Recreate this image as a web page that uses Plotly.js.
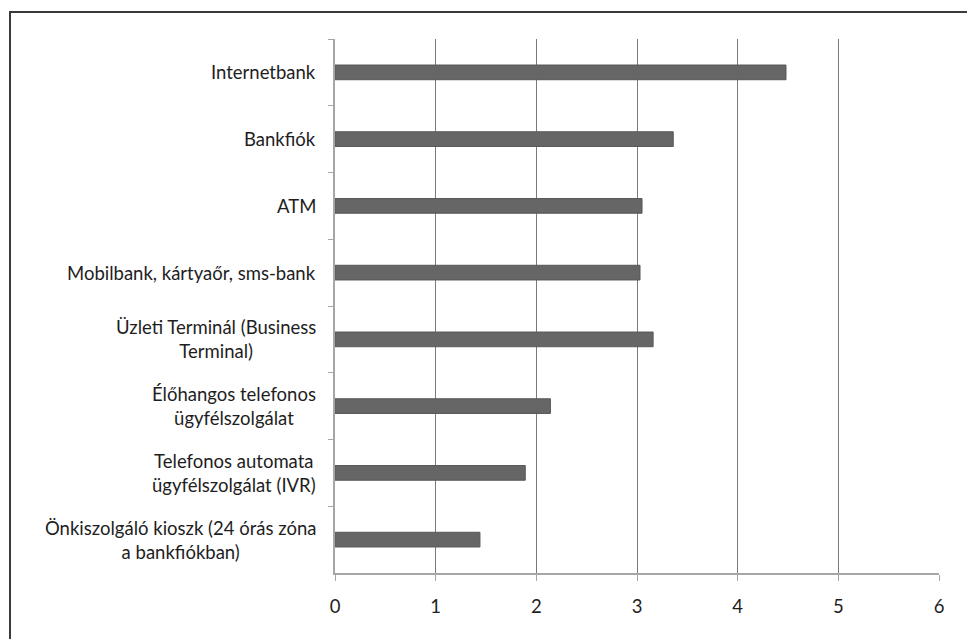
<!DOCTYPE html>
<html>
<head>
<meta charset="utf-8">
<script src="https://cdn.plot.ly/plotly-3.0.1.min.js"></script>
<style>
  html, body { margin: 0; padding: 0; background: #fff; }
  #wrap { position: relative; width: 967px; height: 639px; overflow: hidden; }
  #chart { position: absolute; left: 0; top: 0; width: 967px; height: 639px; }
  /* frame around the chart: only its top and left edges fall inside the page */
  #frame { position: absolute; left: 9px; top: 11px; width: 1000px; height: 700px;
           border: 2px solid #3a3a3a; box-sizing: border-box; pointer-events: none; }
</style>
</head>
<body>
<div id="wrap">
  <div id="chart"></div>
  <div id="frame"></div>
</div>
<script>
// Banking channels, top to bottom
const channels = [
  "Internetbank",
  "Bankfiók",
  "ATM",
  "Mobilbank, kártyaőr, sms-bank",
  "Üzleti Terminál (Business Terminal)",
  "Élőhangos telefonos ügyfélszolgálat",
  "Telefonos automata ügyfélszolgálat (IVR)",
  "Önkiszolgáló kioszk (24 órás zóna a bankfiókban)"
];

// Label text as drawn, with its line breaks
const channelLabels = [
  "Internetbank",
  "Bankfiók",
  "ATM",
  "Mobilbank, kártyaőr, sms-bank",
  "Üzleti Terminál (Business<br>Terminal)",
  "Élőhangos telefonos<br>ügyfélszolgálat",
  "Telefonos automata<br>ügyfélszolgálat (IVR)",
  "Önkiszolgáló kioszk (24 órás zóna<br>a bankfiókban)"
];

const scores = [4.48, 3.36, 3.05, 3.03, 3.16, 2.14, 1.89, 1.44];

const xTicks = [0, 1, 2, 3, 4, 5, 6];

const FONT = "Lato, 'Open Sans', sans-serif";
const TEXT = "#1e1e1e";

const trace = {
  type: "bar",
  orientation: "h",
  y: channels,
  x: scores,
  marker: { color: "#666666", line: { color: "#585858", width: 1 } },
  hoverinfo: "x+y"
};

// Category labels: lines centred within each label, block right-aligned at the axis
const labelNotes = channels.map((c, i) => ({
  xref: "paper", yref: "y",
  x: 0, y: c,
  xanchor: "right", yanchor: "middle",
  xshift: -17,
  align: "center",
  showarrow: false,
  text: channelLabels[i],
  font: { family: FONT, size: 18.5, color: TEXT }
}));

const layout = {
  width: 967, height: 639,
  margin: { l: 335, r: 28, t: 39, b: 66, pad: 0 },
  paper_bgcolor: "#ffffff",
  plot_bgcolor: "#ffffff",
  showlegend: false,
  bargap: 0.78,
  font: { family: FONT, size: 18, color: TEXT },
  xaxis: {
    range: [0, 6],
    tickvals: xTicks,
    ticktext: xTicks.map(String),
    showgrid: true,
    gridcolor: "#7a7a7a",
    gridwidth: 1,
    zeroline: false,
    showline: true,
    linecolor: "#a6a6a6",
    linewidth: 2,
    ticks: "outside",
    ticklen: 6,
    tickcolor: "#a6a6a6",
    ticklabelstandoff: 10,
    tickfont: { family: FONT, size: 18.5, color: TEXT },
    fixedrange: true
  },
  yaxis: {
    type: "category",
    autorange: "reversed",
    showticklabels: false,
    showgrid: false,
    zeroline: false,
    showline: true,
    linecolor: "#a6a6a6",
    linewidth: 2,
    ticks: "outside",
    tickson: "boundaries",
    ticklen: 5,
    tickcolor: "#a6a6a6",
    fixedrange: true
  },
  annotations: labelNotes
};

Plotly.newPlot("chart", [trace], layout, { displayModeBar: false, staticPlot: true });
</script>
</body>
</html>
